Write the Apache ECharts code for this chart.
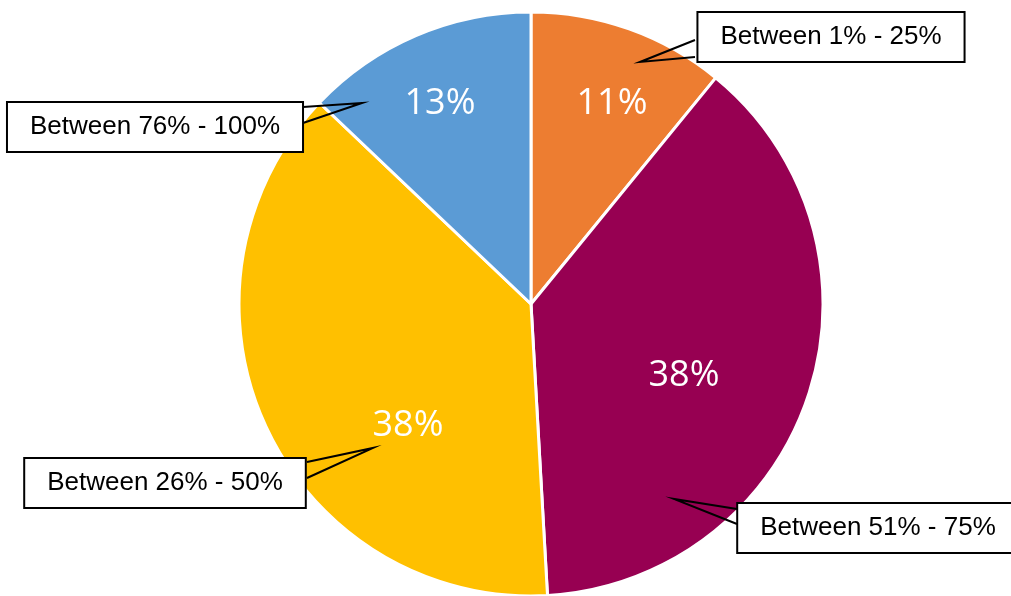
<!DOCTYPE html>
<html>
<head>
<meta charset="utf-8">
<script src="https://cdn.jsdelivr.net/npm/echarts@6/dist/echarts.min.js"></script>
<style>
  html, body { margin: 0; padding: 0; background: #fff; }
  #chart { width: 1011px; height: 596px; }
</style>
</head>
<body>
<div id="chart"></div>
<script>
// slices, clockwise from 12 o'clock
var categories = ['Between 1% - 25%', 'Between 51% - 75%', 'Between 26% - 50%', 'Between 76% - 100%']
var values = [10.9, 38.2, 38.0, 12.9]
var colors = ['#ED7D31', '#970052', '#FFC000', '#5B9BD5']

// where excel put the labels (pixels)
var pctPos = [[612, 104], [684, 376], [408, 426], [440, 104]]
var boxPos = [[831, 37], [878, 528], [165, 483], [155, 127]]
// callout wedge: tip inside slice, base on box edge
var tips = [[640, 62], [674, 499], [373, 448], [362, 103]]
var bases = [[[695, 40], [695, 57]], [[737, 509], [737, 524]], [[307, 462], [307, 478]], [[303, 107], [303, 123]]]

var chart = echarts.init(document.getElementById('chart'))

var pieData = categories.map(function (c, i) {
  return { name: c, value: values[i], itemStyle: { color: colors[i] } }
})

var option = {
  animation: false,
  series: [
    {
      name: 'pct',
      type: 'pie',
      z: 2,
      center: [531, 304],
      radius: 292,
      startAngle: 90,
      avoidLabelOverlap: false,
      itemStyle: { borderColor: '#fff', borderWidth: 3 },
      label: {
        show: true,
        position: 'inside',
        color: '#fff',
        fontFamily: 'Open Sans',
        fontSize: 36,
        formatter: function (p) { return Math.round(p.percent) + '%' }
      },
      labelLine: { show: false },
      labelLayout: function (p) {
        return { x: pctPos[p.dataIndex][0], y: pctPos[p.dataIndex][1], align: 'center', verticalAlign: 'middle' }
      },
      data: pieData
    },
    {
      name: 'callouts',
      type: 'pie',
      z: 5,
      center: [531, 304],
      radius: 292,
      startAngle: 90,
      silent: true,
      avoidLabelOverlap: false,
      itemStyle: { color: 'rgba(0,0,0,0)', borderWidth: 0 },
      label: {
        show: true,
        position: 'outside',
        color: '#000',
        fontFamily: 'Liberation Sans',
        fontSize: 26,
        lineHeight: 28,
        backgroundColor: '#fff',
        borderColor: '#000',
        borderWidth: 2,
        padding: [10, 22],
        formatter: '{b}'
      },
      labelLine: { show: true, lineStyle: { color: '#000', width: 2 } },
      labelLayout: function (p) {
        var i = p.dataIndex
        return {
          x: boxPos[i][0],
          y: boxPos[i][1],
          align: 'center',
          verticalAlign: 'middle',
          labelLinePoints: [bases[i][0], tips[i], bases[i][1]]
        }
      },
      data: categories.map(function (c, i) {
        return { name: c, value: values[i] }
      })
    }
  ]
}
option && chart.setOption(option)
</script>
</body>
</html>
